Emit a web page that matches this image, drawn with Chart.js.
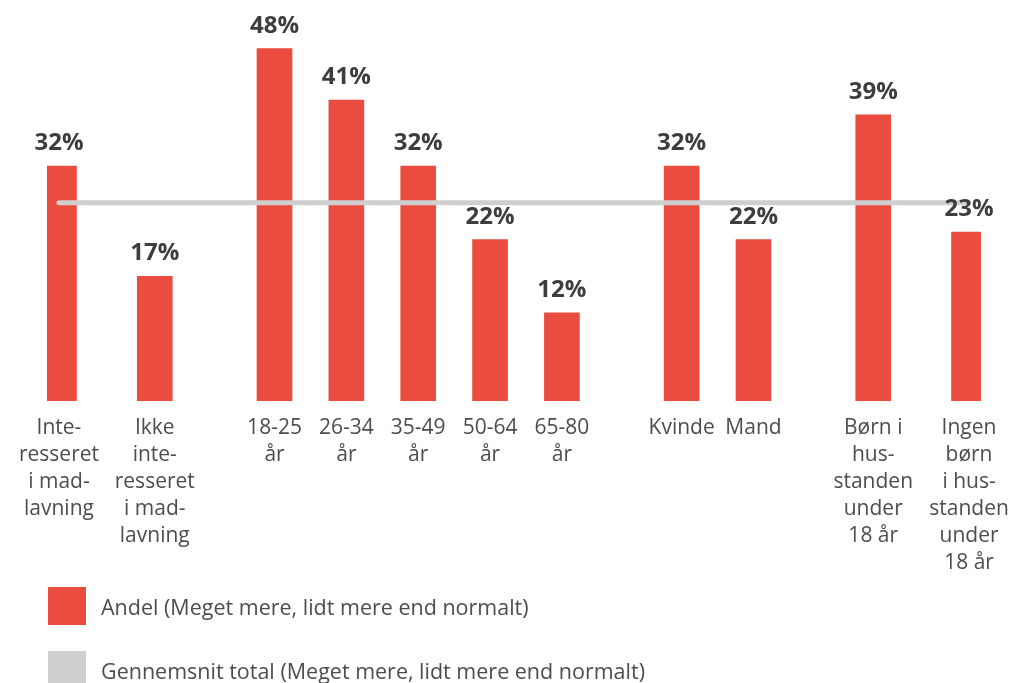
<!DOCTYPE html>
<html lang="da">
<head>
<meta charset="utf-8">
<title>Andel – meget mere, lidt mere end normalt</title>
<script src="https://cdn.jsdelivr.net/npm/chart.js@4.4.1/dist/chart.umd.min.js"></script>
<style>
  html, body { margin: 0; padding: 0; background: #fff; overflow: hidden; }
  #wrap { position: relative; width: 1009px; height: 683px; }
  canvas { position: absolute; left: 0; top: 0; }
  .legend-item { position: absolute; left: 48px; display: flex; align-items: center; }
  .legend-box { width: 38px; height: 38px; margin-right: 15px; flex: none; }
  .legend-text { font-family: "Open Sans", sans-serif; font-size: 21.5px; color: #4d4d4d; white-space: nowrap; }
</style>
</head>
<body>
<div id="wrap">
  <canvas id="chart" width="1009" height="683"></canvas>
  <div class="legend-item" style="top:587px">
    <div class="legend-box" style="background:#ea4d3f"></div>
    <span class="legend-text">Andel (Meget mere, lidt mere end normalt)</span>
  </div>
  <div class="legend-item" style="top:651px">
    <div class="legend-box" style="background:#cfcfcf"></div>
    <span class="legend-text">Gennemsnit total (Meget mere, lidt mere end normalt)</span>
  </div>
</div>
<script>
// Kategorier (linjeskift som i rapporten)
const categories = [
    ['Inte-', 'resseret', 'i mad-', 'lavning'],
    ['Ikke', 'inte-', 'resseret', 'i mad-', 'lavning'],
    ['18-25', 'år'],
    ['26-34', 'år'],
    ['35-49', 'år'],
    ['50-64', 'år'],
    ['65-80', 'år'],
    ['Kvinde'],
    ['Mand'],
    ['Børn i', 'hus-', 'standen', 'under', '18 år'],
    ['Ingen', 'børn', 'i hus-', 'standen', 'under', '18 år']
];

// Andel i procent
const andel = [32, 17, 48, 41, 32, 22, 12, 32, 22, 39, 23];

// Gennemsnit total i procent
const gennemsnit = 27;

// Placering på aksen (tomme pladser giver luft mellem grupperne)
const slotIndex = [0, 4, 9, 12, 15, 18, 21, 26, 29, 34, 38];
const SLOT_COUNT = 39;

const RED = '#ea4d3f';
const GREY = '#cfcfcf';

// Byg labels/data med tomme pladser
const labels = new Array(SLOT_COUNT).fill('');
const barData = new Array(SLOT_COUNT).fill(null);
slotIndex.forEach((slot, i) => {
    labels[slot] = categories[i];
    barData[slot] = andel[i];
});
const lineData = new Array(SLOT_COUNT).fill(gennemsnit);

// Procenttal over søjlerne
const valueLabels = {
    id: 'valueLabels',
    afterDatasetsDraw(chart) {
        const meta = chart.getDatasetMeta(1);
        const ctx = chart.ctx;
        ctx.save();
        ctx.font = 'bold 24px "Open Sans", sans-serif';
        ctx.fillStyle = '#3d3d3d';
        ctx.textAlign = 'center';
        ctx.textBaseline = 'alphabetic';
        meta.data.forEach((bar, i) => {
            const v = barData[i];
            if (v === null) return;
            ctx.fillText(v + '%', bar.x, bar.y - 16);
        });
        ctx.restore();
    }
};

const chart = new Chart(document.getElementById('chart'), {
    data: {
        labels: labels,
        datasets: [
            {
                type: 'line',
                label: 'Gennemsnit total (Meget mere, lidt mere end normalt)',
                data: lineData,
                borderColor: GREY,
                borderWidth: 5,
                borderCapStyle: 'round',
                pointRadius: 0,
                fill: false,
                order: 0
            },
            {
                type: 'bar',
                label: 'Andel (Meget mere, lidt mere end normalt)',
                data: barData,
                backgroundColor: RED,
                barThickness: 35,
                skipNull: true,
                order: 1
            }
        ]
    },
    options: {
        responsive: false,
        animation: false,
        layout: {
            padding: { left: 47, right: 28, top: 34, bottom: 92 }
        },
        plugins: {
            legend: { display: false },
            tooltip: { enabled: false }
        },
        scales: {
            x: {
                grid: { display: false, drawTicks: false },
                border: { display: false },
                // labels må gerne gå ud over kanten af plotområdet
                afterFit(scale) {
                    scale.paddingLeft = 0;
                    scale.paddingRight = 0;
                },
                ticks: {
                    autoSkip: false,
                    minRotation: 0,
                    maxRotation: 0,
                    padding: 14,
                    color: '#4d4d4d',
                    font: { family: '"Open Sans", sans-serif', size: 21, lineHeight: '27px' }
                }
            },
            y: {
                display: false,
                min: 0,
                max: 50
            }
        }
    },
    plugins: [valueLabels]
});
</script>
</body>
</html>
